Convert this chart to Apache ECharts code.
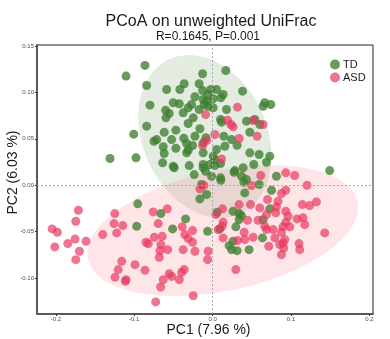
<!DOCTYPE html>
<html>
<head>
<meta charset="utf-8">
<script src="https://cdn.jsdelivr.net/npm/echarts@6/dist/echarts.min.js"></script>
<style>
  html, body { margin: 0; padding: 0; background: #fff; }
  #chart { width: 390px; height: 339px; }
</style>
</head>
<body>
<div id="chart"></div>
<script>
// PCoA coordinates (PC1, PC2) per sample
const tdX = [-0.0862,-0.1104,-0.0841,-0.0586,-0.0362,-0.0417,-0.0127,-0.0171,-0.0127,-0.0225,
  -0.0799,-0.0502,-0.0425,-0.0599,-0.0553,-0.0595,-0.0311,-0.0268,-0.0375,-0.0247,
  -0.0311,-0.0171,-0.0107,-0.0120,-0.0056,-0.0841,-0.1006,-0.0617,-0.0468,-0.0162,
  -0.0225,-0.0366,-0.0713,-0.0748,-0.0522,-0.0629,-0.0468,-0.0331,-0.0255,-0.0311,
  -0.0331,-0.0120,-0.0617,-0.1308,-0.0977,-0.0637,-0.0502,-0.0489,-0.0298,-0.0120,
  -0.0234,-0.0089,0.0169,-0.0022,0.0051,0.0382,0.0135,0.0008,-0.0076,0.0106,
  -0.0056,0.0008,0.0178,0.0666,0.0743,0.0645,0.0102,0.0115,0.0433,0.0539,
  0.0603,0.0475,0.0144,0.0242,-0.0085,0.0157,0.0313,0.0051,-0.0120,0.0475,
  0.0594,0.0730,0.0008,0.0029,-0.0034,0.0029,0.0102,0.0390,0.0284,0.0526,
  0.0688,0.1494,0.0815,-0.0013,0.0102,0.0369,-0.0120,-0.0140,-0.0076,-0.0162,
  -0.0955,-0.0659,-0.0968,-0.0510,-0.0344,-0.0064,0.0275,0.0106,0.0399,0.0433,
  0.0594,0.0411,0.0752,0.0059,0.0262,0.0339,0.0369,0.0339,0.0645,0.0730,
  0.0297,0.0093,0.0637,0.0262,0.0211,0.0242,0.0313,0.0466];
const tdY = [0.1290,0.1175,0.1074,0.1031,0.1093,0.1031,0.1200,0.1093,0.1020,0.0953,
  0.0862,0.0888,0.0877,0.0808,0.0773,0.0726,0.0834,0.0870,0.0780,0.0726,
  0.0665,0.0816,0.0870,0.0924,0.0977,0.0636,0.0550,0.0571,0.0593,0.0608,
  0.0528,0.0506,0.0492,0.0474,0.0492,0.0414,0.0399,0.0449,0.0428,0.0377,
  0.0349,0.0349,0.0342,0.0288,0.0295,0.0241,0.0205,0.0188,0.0212,0.0223,
  0.0115,0.0151,0.1236,0.1031,0.1031,0.1013,0.0977,0.0931,0.0905,0.0942,
  0.0851,0.0834,0.0816,0.0888,0.0870,0.0851,0.0708,0.0679,0.0690,0.0708,
  0.0654,0.0571,0.0528,0.0492,0.0511,0.0420,0.0431,0.0385,0.0457,0.0349,
  0.0331,0.0313,0.0313,0.0277,0.0223,0.0212,0.0234,0.0188,0.0158,0.0223,
  0.0248,0.0158,0.0097,0.0097,0.0080,0.0097,0.0188,0.0008,-0.0100,-0.0147,
  -0.0200,-0.0305,-0.0442,-0.0470,-0.0362,-0.0496,0.0140,0.0054,0.0032,0.0061,
  0.0008,-0.0082,-0.0054,-0.0291,-0.0280,-0.0305,-0.0327,-0.0370,-0.0370,-0.0254,
  -0.0448,-0.0470,-0.0567,-0.0603,-0.0650,-0.0693,-0.0704,-0.0693];

const asdX = [-0.0089,-0.0127,-0.0076,0.0318,0.0191,0.0233,0.0262,0.0517,0.0645,0.0029,
  0.0568,0.0339,0.0115,0.0615,0.0934,0.1048,-0.0162,-0.0111,-0.1712,-0.1248,
  -0.0757,-0.0578,-0.1745,-0.1257,-0.1146,-0.0693,-0.2047,-0.1980,-0.0387,-0.0255,
  -0.1223,-0.1401,-0.0353,-0.1754,-0.1614,-0.0744,-0.0642,-0.0311,-0.0850,-0.0820,
  -0.0255,-0.1847,-0.0659,-0.2013,-0.0573,-0.0375,-0.0225,-0.0671,-0.1699,-0.0056,
  -0.0680,-0.1745,-0.0064,-0.1159,-0.0990,-0.1203,-0.0862,-0.0362,-0.0395,-0.0553,
  -0.0522,-0.1245,-0.1104,-0.1113,-0.0629,-0.0425,-0.0662,-0.0247,-0.0726,0.0497,
  0.1205,0.0934,0.0879,0.0836,0.0701,0.0339,0.0484,0.0603,0.0815,0.1146,
  0.1239,0.1325,0.0127,0.0042,0.0806,0.0934,0.0688,0.0963,0.1078,0.1154,
  0.0446,0.0135,0.0581,0.0934,0.1176,0.0666,0.0688,0.0772,0.0899,0.0985,
  0.0122,0.0071,0.1431,0.0403,0.0879,0.0794,0.0517,0.0135,0.0411,0.0318,
  0.0921,0.0899,0.1103,0.0857,0.0717,0.1112,0.0908,0.0879,0.0297];
const asdY = [0.0762,0.0428,0.0482,0.0841,0.0700,0.0654,0.0629,0.0697,0.0654,0.0546,
  0.0528,0.0503,0.0284,0.0105,0.0134,0.0105,-0.0039,-0.0003,-0.0269,-0.0305,
  -0.0287,-0.0254,-0.0388,-0.0413,-0.0434,-0.0413,-0.0470,-0.0506,-0.0448,-0.0488,
  -0.0513,-0.0531,-0.0531,-0.0578,-0.0603,-0.0560,-0.0550,-0.0574,-0.0614,-0.0631,
  -0.0614,-0.0628,-0.0639,-0.0664,-0.0693,-0.0693,-0.0711,-0.0704,-0.0711,-0.0711,
  -0.0776,-0.0801,-0.0801,-0.0819,-0.0855,-0.0908,-0.0916,-0.0908,-0.0938,-0.0952,
  -0.0981,-0.0991,-0.1016,-0.1034,-0.1016,-0.1016,-0.1095,-0.1189,-0.1256,-0.0003,
  0.0000,-0.0054,-0.0089,-0.0172,-0.0154,-0.0208,-0.0208,-0.0244,-0.0233,-0.0208,
  -0.0219,-0.0179,-0.0254,-0.0316,-0.0297,-0.0280,-0.0316,-0.0334,-0.0362,-0.0351,
  -0.0377,-0.0399,-0.0377,-0.0399,-0.0424,-0.0442,-0.0477,-0.0477,-0.0448,-0.0448,
  -0.0442,-0.0477,-0.0513,-0.0506,-0.0506,-0.0567,-0.0560,-0.0567,-0.0585,-0.0596,
  -0.0585,-0.0621,-0.0628,-0.0639,-0.0657,-0.0693,-0.0675,-0.0747,-0.0908];

// Confidence ellipses: centre (x, y), first semi-axis vector, second semi-axis vector
const tdEllipse = [-0.0098, 0.0525, 0.0457, -0.0830, 0.0716, 0.0282];
const asdEllipse = [0.0131, -0.0488, 0.1720, 0.0309, 0.0159, -0.0633];

const groups = ['TD', 'ASD'];
const xTicks = [-0.2, -0.1, 0, 0.1, 0.2];
const xTickLabels = ['-0.2', '-0.1', '0.0', '0.1', '0.2'];
const yTicks = [-0.1, -0.05, 0, 0.05, 0.1, 0.15];
const yTickLabels = ['-0.10', '-0.05', '0.00', '0.05', '0.10', '0.15'];

const tdColor = '#3f7f2f';
const asdColor = '#e8395f';

function pairs(xs, ys) { return xs.map((x, i) => [x, ys[i]]); }

function tickLabel(ticks, labels) {
  return function (v) {
    let best = 0;
    ticks.forEach((t, i) => { if (Math.abs(t - v) < Math.abs(ticks[best] - v)) best = i; });
    return labels[best];
  };
}

function ellipseSeries(name, params, fill) {
  return {
    type: 'custom',
    name: name + ' ellipse',
    silent: true,
    z: 1,
    clip: true,
    data: [params],
    renderItem: function (p, api) {
      const cx = api.value(0), cy = api.value(1);
      const ux = api.value(2), uy = api.value(3);
      const vx = api.value(4), vy = api.value(5);
      const pts = [];
      for (let k = 0; k < 120; k++) {
        const t = k / 120 * Math.PI * 2;
        pts.push(api.coord([cx + ux * Math.cos(t) + vx * Math.sin(t),
                            cy + uy * Math.cos(t) + vy * Math.sin(t)]));
      }
      return { type: 'polygon', shape: { points: pts }, style: { fill: fill, stroke: null } };
    }
  };
}

const chart = echarts.init(document.getElementById('chart'));
chart.setOption({
  animation: false,
  backgroundColor: '#ffffff',
  textStyle: { fontFamily: 'Liberation Sans, Arial, sans-serif' },
  graphic: [
    { type: 'text', x: 211, y: 22, style: { text: 'PCoA on unweighted UniFrac', fill: '#1a1a1a',
      font: '16px "Liberation Sans", Arial, sans-serif', textAlign: 'center', textVerticalAlign: 'middle' } },
    { type: 'text', x: 208, y: 37, style: { text: 'R=0.1645, P=0.001', fill: '#1a1a1a',
      font: '12px "Liberation Sans", Arial, sans-serif', textAlign: 'center', textVerticalAlign: 'middle' } }
  ],
  grid: { left: 37, right: 17, top: 45, bottom: 25, outerBoundsMode: 'none', containLabel: false,
    show: true, borderColor: '#222', borderWidth: 1 },
  legend: {
    data: groups,
    orient: 'vertical',
    left: 325, top: 54,
    itemWidth: 10, itemHeight: 10, itemGap: 2,
    icon: 'circle',
    textStyle: { fontSize: 11, color: '#1a1a1a', padding: [0, 0, 0, -2] }
  },
  xAxis: {
    type: 'value', min: -0.224, max: 0.2047,
    name: 'PC1 (7.96 %)', nameLocation: 'middle', nameGap: 9, nameMoveOverlap: false,
    nameTextStyle: { fontSize: 14, color: '#1a1a1a', padding: [0, 0, 0, 7] },
    axisLine: { show: true, onZero: false, lineStyle: { color: '#5a5a5a', width: 2 } },
    axisTick: { show: true, length: 2, customValues: xTicks, lineStyle: { color: '#333' } },
    axisLabel: { customValues: xTicks, fontSize: 6, color: '#4d4d4d', margin: 2,
      formatter: tickLabel(xTicks, xTickLabels) },
    splitLine: { show: false }
  },
  yAxis: {
    type: 'value', min: -0.1386, max: 0.151,
    name: 'PC2 (6.03 %)', nameLocation: 'middle', nameGap: 17, nameMoveOverlap: false,
    nameTextStyle: { fontSize: 14, color: '#1a1a1a', padding: [0, 0, 0, 14] },
    axisLine: { show: true, onZero: false, lineStyle: { color: '#5a5a5a', width: 2 } },
    axisTick: { show: true, length: 2, customValues: yTicks, lineStyle: { color: '#333' } },
    axisLabel: { customValues: yTicks, fontSize: 6, color: '#4d4d4d', margin: 3,
      formatter: tickLabel(yTicks, yTickLabels) },
    splitLine: { show: false }
  },
  series: [
    Object.assign(ellipseSeries('TD', tdEllipse, 'rgba(110,155,100,0.19)'), {
      markLine: {
        silent: true, symbol: 'none', animation: false,
        label: { show: false },
        lineStyle: { color: '#aaaaaa', type: [2, 2], width: 1 },
        data: [{ xAxis: 0 }, { yAxis: 0 }]
      }
    }),
    ellipseSeries('ASD', asdEllipse, 'rgba(250,130,140,0.2)'),
    {
      name: 'TD', type: 'scatter', z: 3,
      symbolSize: 9,
      itemStyle: { color: tdColor, opacity: 0.78 },
      data: pairs(tdX, tdY)
    },
    {
      name: 'ASD', type: 'scatter', z: 4,
      symbolSize: 9,
      itemStyle: { color: asdColor, opacity: 0.7 },
      data: pairs(asdX, asdY)
    }
  ]
});
</script>
</body>
</html>
